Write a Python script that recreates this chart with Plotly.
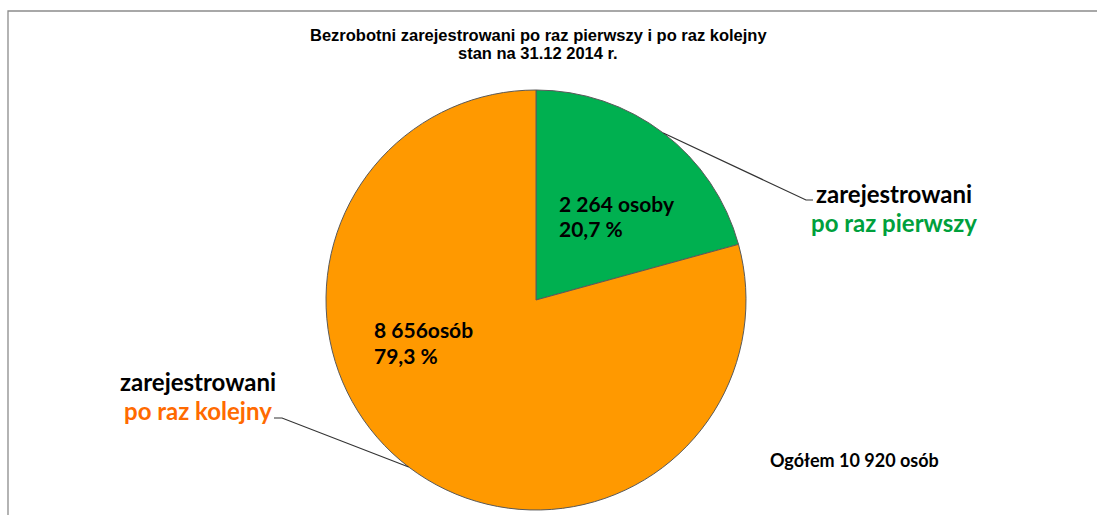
import math
import plotly.graph_objects as go

# ---- data ----
categories = ["zarejestrowani po raz pierwszy", "zarejestrowani po raz kolejny"]
values = [2264, 8656]
percent_labels = ["20,7 %", "79,3 %"]
count_labels = ["2 264 osoby", "8 656osób"]
total_label = "Ogółem 10 920 osób"
title_lines = ["Bezrobotni zarejestrowani po raz pierwszy i po raz kolejny", "stan na 31.12 2014 r."]
slice_colors = ["#00B050", "#FF9900"]
label_colors = ["#00A03C", "#FF6A00"]

W, H = 1097, 515
cx, cy, R = 536, 300, 210  # pie centre/radius in pixels

def px(x):
    return x / W

def py(y):
    return 1 - y / H

fig = go.Figure()
fig.add_trace(go.Pie(
    labels=categories,
    values=values,
    sort=False,
    direction="clockwise",
    rotation=0,
    textinfo="none",
    hoverinfo="label+value+percent",
    marker=dict(colors=slice_colors, line=dict(color="#5a5a5a", width=1)),
    domain=dict(x=[px(cx - R), px(cx + R)], y=[py(cy + R), py(cy - R)]),
    showlegend=False,
))

# frame
shapes = [dict(type="rect", xref="paper", yref="paper",
               x0=px(8), x1=px(1110), y0=py(530), y1=py(11),
               line=dict(color="#8c8c8c", width=1.3), fillcolor="rgba(0,0,0,0)")]

# leader lines start at mid-angle of each slice
total = sum(values)
cum = 0
mids = []
for v in values:
    mids.append((cum + v / 2) / total * 2 * math.pi)
    cum += v
ends = [((806, 200), (813, 200)), ((282, 418), (274, 418))]
for ang, (elbow, tip) in zip(mids, ends):
    sx = cx + R * math.sin(ang)
    sy = cy - R * math.cos(ang)
    shapes.append(dict(type="path", xref="paper", yref="paper",
                       path=f"M {px(sx)},{py(sy)} L {px(elbow[0])},{py(elbow[1])} L {px(tip[0])},{py(tip[1])}",
                       line=dict(color="#333333", width=1.2)))

fig.update_layout(shapes=shapes)

font_main = "Lato"
tfont = dict(family="Liberation Sans, Arial", size=16.5, color="#000000")
ann = []
# title
ann.append(dict(x=px(538), y=py(35), text=f"<b>{title_lines[0]}</b>", font=tfont))
ann.append(dict(x=px(538), y=py(53), text=f"<b>{title_lines[1]}</b>", font=tfont))
# inner labels
ifont = dict(family=font_main, size=21, color="#000")
ann.append(dict(x=px(557), y=py(203), xanchor="left", text=f"<b>{count_labels[0]}</b>", font=ifont))
ann.append(dict(x=px(557), y=py(229), xanchor="left", text=f"<b>{percent_labels[0]}</b>", font=ifont))
ann.append(dict(x=px(372), y=py(329), xanchor="left", text=f"<b>{count_labels[1]}</b>", font=ifont))
ann.append(dict(x=px(372), y=py(355), xanchor="left", text=f"<b>{percent_labels[1]}</b>", font=ifont))
# outer labels
w1, w2 = categories[0].split(" ", 1)
ann.append(dict(x=px(894), y=py(193), text=f"<b>{w1}</b>", font=dict(family=font_main, size=24, color="#000")))
ann.append(dict(x=px(894), y=py(222), text=f"<b>{w2}</b>", font=dict(family=font_main, size=24, color=label_colors[0])))
k1, k2 = categories[1].split(" ", 1)
ann.append(dict(x=px(198), y=py(381), text=f"<b>{k1}</b>", font=dict(family=font_main, size=24, color="#000")))
ann.append(dict(x=px(198), y=py(410), text=f"<b>{k2}</b>", font=dict(family=font_main, size=24, color=label_colors[1])))
# total
ann.append(dict(x=px(768), y=py(460), xanchor="left", text=f"<b>{total_label}</b>", font=dict(family=font_main, size=18, color="#000")))

for a in ann:
    a.setdefault("xanchor", "center")
    a.update(xref="paper", yref="paper", yanchor="middle", showarrow=False)

fig.update_layout(
    annotations=ann,
    width=W, height=H,
    margin=dict(l=0, r=0, t=0, b=0),
    paper_bgcolor="white",
    plot_bgcolor="white",
)

fig.write_html("out.html",
               config={"displayModeBar": False},
               post_script="document.body.style.margin='0';document.body.style.overflow='hidden';")
